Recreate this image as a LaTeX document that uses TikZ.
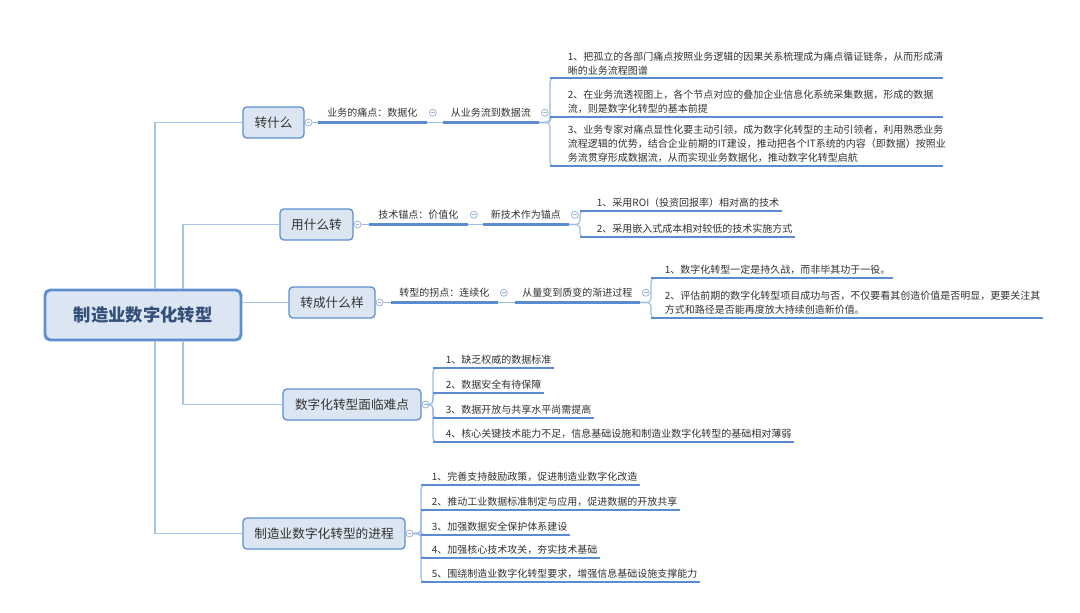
\documentclass[tikz,border=0pt]{standalone}
\usepackage{fontspec}
\setmainfont{Noto Sans CJK SC}
\usetikzlibrary{positioning}

\definecolor{boxfill}{HTML}{DCE6F2}
\definecolor{boxline}{HTML}{5E8FD3}
\definecolor{trunkc}{HTML}{A6C3EA}
\definecolor{linec}{HTML}{9CBAE4}
\definecolor{ulc}{HTML}{5B8BD0}
\definecolor{foldc}{HTML}{9DB4D8}
\definecolor{txt}{HTML}{333333}
\definecolor{roottxt}{HTML}{34507A}

\begin{document}
\begin{tikzpicture}[x=0.75pt, y=-0.75pt,
  every node/.style={text=txt},
  rootbox/.style={draw=boxline, line width=2.2pt, fill=boxfill, rounded corners=4pt,
    minimum width=147pt, minimum height=37.5pt, font=\fontsize{13pt}{15pt}\selectfont\bfseries, text=roottxt},
  topic/.style={draw=boxline, line width=1pt, fill=boxfill, rounded corners=3pt,
    minimum height=23.25pt, font=\fontsize{9.5pt}{11pt}\selectfont},
  sub/.style={anchor=south west, inner ysep=3.6pt, font=\fontsize{7.5pt}{10.5pt}\selectfont},
  leaf/.style={anchor=south west, inner xsep=2pt, inner ysep=2.2pt, align=left,
    font=\fontsize{7.5pt}{10.5pt}\selectfont},
  fold/.style={circle, draw=foldc, fill=white, line width=0.6pt, inner sep=0pt, minimum size=5.25pt,
    path picture={\draw[foldc, line width=0.6pt] ([xshift=1.2pt]path picture bounding box.west)
      -- ([xshift=-1.2pt]path picture bounding box.east);}},
  trunk/.style={draw=trunkc, line width=1.1pt},
  conn/.style={draw=linec, line width=0.8pt, rounded corners=3pt},
  uline/.style={draw=ulc, line width=1.9pt}]

\fill[white] (0,0) rectangle (1080,612);
\useasboundingbox (0,0) rectangle (1080,612);

% centre and main topics
\node[rootbox] (root) at (143,315) {制造业数字化转型};
\node[topic, minimum width=45.75pt] (b1) at (273.5,122.5) {转什么};
\node[topic, minimum width=54.75pt] (b2) at (316.5,224.5) {用什么转};
\node[topic, minimum width=64.5pt] (b3) at (332,302.5) {转成什么样};
\node[topic, minimum width=103.5pt] (b4) at (352,404.5) {数字化转型面临难点};
\node[topic, minimum width=121.5pt] (b5) at (324,533.5) {制造业数字化转型的进程};

\draw[trunk] ([xshift=9pt]root.north) |- (b1.west);
\draw[trunk] ([xshift=30pt]root.north) |- (b2.west);
\draw[trunk] (root.east |- b3.west) -- (b3.west);
\draw[trunk] ([xshift=30pt]root.south) |- (b4.west);
\draw[trunk] ([xshift=9pt]root.south) |- (b5.west);

\foreach \b in {1,...,5}
  \node[fold, right=0pt of b\b] (f\b) {};

% second level
\node[sub, minimum width=81pt] (m11) at (318,122.5) {业务的痛点：数据化};
\node[sub, minimum width=71.25pt] (m12) at (443,122.5) {从业务流到数据流};
\node[sub, minimum width=73.5pt] (m21) at (369,224.5) {技术锚点：价值化};
\node[sub, minimum width=63.75pt] (m22) at (483,224.5) {新技术作为锚点};
\node[sub, minimum width=79.5pt] (m31) at (391,302.5) {转型的拐点：连续化};
\node[sub, minimum width=93pt] (m32) at (515,302.5) {从量变到质变的渐进过程};

\foreach \m in {11,12,21,22,31,32}
  \node[fold, right=1.8pt of m\m] (g\m) {};

\coordinate (k1) at (550,0);
\coordinate (k2) at (580,0);
\coordinate (k3) at (651,0);
\coordinate (k4) at (433,0);
\coordinate (k5) at (421,0);

% leaves
\node[leaf, text width=279pt] (a11) at (565,78) {1、把孤立的各部门痛点按照业务逻辑的因果关系梳理成为痛点循证链条，从而形成清\\晰的业务流程图谱};
\node[leaf, text width=279pt] (a12) at (565,117) {2、在业务流透视图上，各个节点对应的叠加企业信息化系统采集数据，形成的数据\\流，则是数字化转型的基本前提};
\node[leaf, text width=279pt] (a13) at (565,166) {3、业务专家对痛点显性化要主动引领，成为数字化转型的主动引领者，利用熟悉业务\\流程逻辑的优势，结合企业前期的IT建设，推动把各个IT系统的内容（即数据）按照业\\务流贯穿形成数据流，从而实现业务数据化，推动数字化转型启航};

\node[leaf] (a21) at (594,211) {1、采用ROI（投资回报率）相对高的技术};
\node[leaf] (a22) at (594,237) {2、采用嵌入式成本相对较低的技术实施方式};

\node[leaf] (a31) at (662,278) {1、数字化转型一定是持久战，而非毕其功于一役。};
\node[leaf] (a32) at (662,318) {2、评估前期的数字化转型项目成功与否，不仅要看其创造价值是否明显，更要关注其\\方式和路径是否能再度放大持续创造新价值。};

\node[leaf] (a41) at (443,368) {1、缺乏权威的数据标准};
\node[leaf] (a42) at (443,393) {2、数据安全有待保障};
\node[leaf] (a43) at (443,418) {3、数据开放与共享水平尚需提高};
\node[leaf] (a44) at (443,442) {4、核心关键技术能力不足，信息基础设施和制造业数字化转型的基础相对薄弱};

\node[leaf] (a51) at (429,485) {1、完善支持鼓励政策，促进制造业数字化改造};
\node[leaf] (a52) at (429,510) {2、推动工业数据标准制定与应用，促进数据的开放共享};
\node[leaf] (a53) at (429,535) {3、加强数据安全保护体系建设};
\node[leaf] (a54) at (429,558) {4、加强核心技术攻关，夯实技术基础};
\node[leaf] (a55) at (429,582) {5、围绕制造业数字化转型要求，增强信息基础设施支撑能力};

% connectors
\draw[conn] (f1.east) -- (m11.south west);
\draw[conn] (m11.south east) -- (m12.south west);
\draw[conn] (f2.east) -- (m21.south west);
\draw[conn] (m21.south east) -- (m22.south west);
\draw[conn] (f3.east) -- (m31.south west);
\draw[conn] (m31.south east) -- (m32.south west);

\foreach \n in {a11,a12,a13}
  \draw[conn] (m12.south east) -- (k1 |- m12.south) |- (\n.south west);
\foreach \n in {a21,a22}
  \draw[conn] (m22.south east) -- (k2 |- m22.south) |- (\n.south west);
\foreach \n in {a31,a32}
  \draw[conn] (m32.south east) -- (k3 |- m32.south) |- (\n.south west);
\foreach \n in {a41,a42,a43,a44}
  \draw[conn] (f4.east) -- (k4 |- f4.east) |- (\n.south west);
\foreach \n in {a51,a52,a53,a54,a55}
  \draw[conn] (f5.east) -- (k5 |- f5.east) |- (\n.south west);

% underlines
\foreach \m in {m11,m12,m21,m22,m31,m32}
  \draw[uline] (\m.south west) -- (\m.south east);
\foreach \n/\k in {a11/k1,a12/k1,a13/k1,a21/k2,a22/k2,a31/k3,a32/k3,
    a41/k4,a42/k4,a43/k4,a44/k4,a51/k5,a52/k5,a53/k5,a54/k5,a55/k5}
  \draw[uline] (\k |- \n.south) -- (\n.south east);

\end{tikzpicture}
\end{document}
